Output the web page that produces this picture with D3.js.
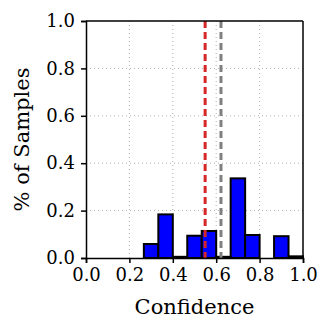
<!DOCTYPE html>
<html>
<head>
<meta charset="utf-8">
<script src="https://cdn.jsdelivr.net/npm/d3@7"></script>
<style>
  body { margin: 0; background: #fff; }
  text { font-family: "DejaVu Serif", serif; fill: #000; }
</style>
</head>
<body>
<div id="chart"></div>
<script>
// histogram: 15 bins over [0, 1]
const binEdges = d3.range(16).map(i => i / 15);
const binValues = [0, 0, 0, 0, 0.059, 0.184, 0.005, 0.094, 0.114, 0.005, 0.336, 0.097, 0, 0.092, 0.007];
const xTicks = [0.0, 0.2, 0.4, 0.6, 0.8, 1.0];
const yTicks = [0.0, 0.2, 0.4, 0.6, 0.8, 1.0];
const meanLine = 0.549;   // red
const otherLine = 0.622;  // gray

const margin = { top: 21, right: 30, bottom: 75, left: 86 };
const W = 333, H = 333;
const width = W - margin.left - margin.right;
const height = H - margin.top - margin.bottom;

const svg = d3.select("#chart").append("svg")
  .attr("width", W).attr("height", H)
  .append("g")
  .attr("transform", `translate(${margin.left},${margin.top})`);

const x = d3.scaleLinear().domain([0, 1]).range([0, width]);
const y = d3.scaleLinear().domain([0, 1]).range([height, 0]);

// grid
svg.append("g").selectAll("line").data(xTicks.slice(1, -1)).enter().append("line")
  .attr("x1", d => x(d)).attr("x2", d => x(d)).attr("y1", 0).attr("y2", height)
  .attr("stroke", "#b0b0b0").attr("stroke-width", 1).attr("stroke-dasharray", "1,3");
svg.append("g").selectAll("line").data(yTicks.slice(1, -1)).enter().append("line")
  .attr("y1", d => y(d)).attr("y2", d => y(d)).attr("x1", 0).attr("x2", width)
  .attr("stroke", "#b0b0b0").attr("stroke-width", 1).attr("stroke-dasharray", "1,3");

// bars
svg.append("g").selectAll("rect")
  .data(binValues.map((v, i) => ({ v, x0: binEdges[i], x1: binEdges[i + 1] })))
  .enter().filter(d => d.x0 >= 0.26)
  .append("rect")
  .attr("x", d => x(d.x0))
  .attr("y", d => y(d.v))
  .attr("width", d => x(d.x1) - x(d.x0))
  .attr("height", d => y(0) - y(d.v))
  .attr("fill", "#0000ff")
  .attr("stroke", "#000")
  .attr("stroke-width", 2);

// vertical reference lines
svg.append("line")
  .attr("x1", x(meanLine)).attr("x2", x(meanLine)).attr("y1", 0).attr("y2", height)
  .attr("stroke", "#d62728").attr("stroke-width", 3).attr("stroke-dasharray", "7,4");
svg.append("line")
  .attr("x1", x(otherLine)).attr("x2", x(otherLine)).attr("y1", 0).attr("y2", height)
  .attr("stroke", "#808080").attr("stroke-width", 3).attr("stroke-dasharray", "7,4");

// axes
const xAxis = svg.append("g")
  .attr("transform", `translate(0,${height})`)
  .call(d3.axisBottom(x).tickValues(xTicks).tickFormat(d3.format(".1f")).tickSizeOuter(0).tickSize(5).tickPadding(5));
const yAxis = svg.append("g")
  .call(d3.axisLeft(y).tickValues(yTicks).tickFormat(d3.format(".1f")).tickSizeOuter(0).tickSize(5).tickPadding(6));

[xAxis, yAxis].forEach(a => {
  a.selectAll("text").style("font-size", "18px").style("font-family", "DejaVu Serif");
  a.selectAll("line").attr("stroke-width", 1.5);
  a.select(".domain").attr("stroke-width", 1.5);
});

// box top/right
svg.append("line").attr("x1", 0).attr("x2", width).attr("y1", 0).attr("y2", 0)
  .attr("stroke", "#000").attr("stroke-width", 1.5);
svg.append("line").attr("x1", width).attr("x2", width).attr("y1", 0).attr("y2", height)
  .attr("stroke", "#000").attr("stroke-width", 1.5);

// labels
svg.append("text")
  .attr("x", width / 2).attr("y", height + 56)
  .attr("text-anchor", "middle")
  .style("font-size", "21px")
  .text("Confidence");
svg.append("text")
  .attr("transform", "rotate(-90)")
  .attr("x", -height / 2).attr("y", -57)
  .attr("text-anchor", "middle")
  .style("font-size", "21px")
  .text("% of Samples");
</script>
</body>
</html>
